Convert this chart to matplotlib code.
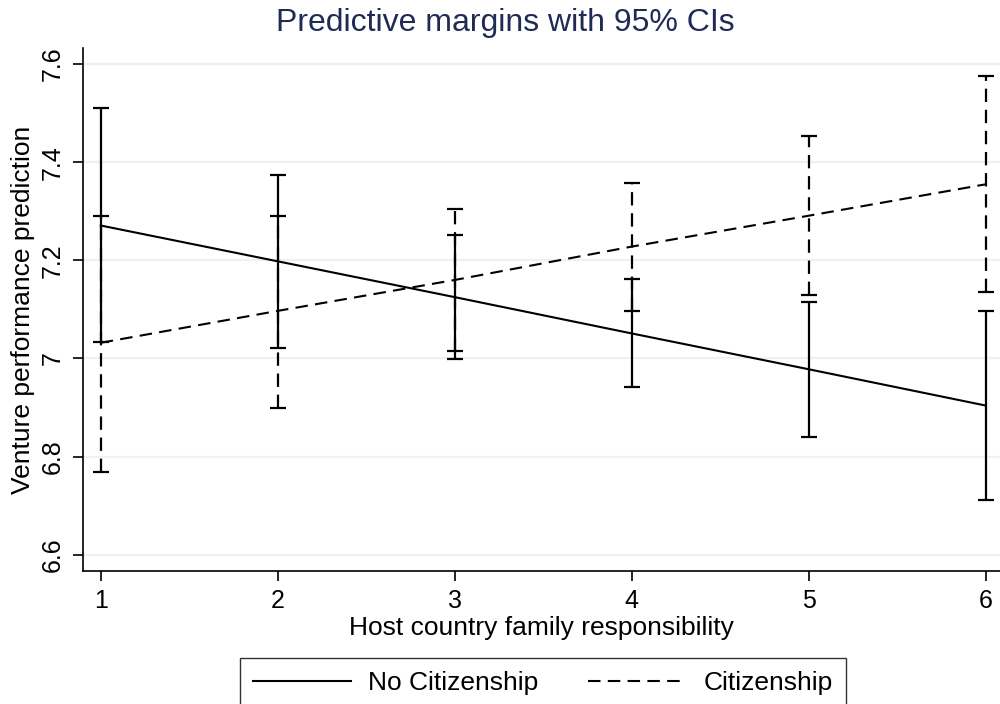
import matplotlib
matplotlib.use("Agg")
import matplotlib.pyplot as plt
import numpy as np

# values
x_vals = [1, 2, 3, 4, 5, 6]
no_cit = [7.271, 7.198, 7.125, 7.051, 6.978, 6.904]
no_cit_lo = [7.033, 7.022, 6.998, 6.941, 6.839, 6.712]
no_cit_hi = [7.510, 7.373, 7.251, 7.161, 7.116, 7.096]
cit = [7.032, 7.097, 7.160, 7.228, 7.291, 7.355]
cit_lo = [6.768, 6.900, 7.016, 7.096, 7.130, 7.136]
cit_hi = [7.291, 7.290, 7.305, 7.357, 7.454, 7.575]

plt.rcParams['font.family'] = ['Liberation Sans', 'DejaVu Sans']

fig = plt.figure(figsize=(10, 7.04), dpi=100)
ax = fig.add_axes([0.083, 0.189, 0.917, 0.743])

dash = (0, (6, 3.5))
nc = np.array(no_cit)
c = np.array(cit)

eb1 = ax.errorbar(x_vals, nc, yerr=[nc - np.array(no_cit_lo), np.array(no_cit_hi) - nc],
                  color='black', lw=1.5, elinewidth=1.6, capsize=6, capthick=1.6,
                  label='No Citizenship', zorder=3)
eb2 = ax.errorbar(x_vals, c, yerr=[c - np.array(cit_lo), np.array(cit_hi) - c],
                  color='black', lw=1.5, ls=dash, elinewidth=1.6, capsize=6,
                  capthick=1.6, label='Citizenship', zorder=3)
for bar in eb2[2]:
    bar.set_linestyle(dash)

ax.set_xlim(0.9, 6.08)
ax.set_ylim(6.567, 7.633)
ax.set_xticks(x_vals)
ax.set_yticks([6.6, 6.8, 7.0, 7.2, 7.4, 7.6])
ax.set_yticklabels(['6.6', '6.8', '7', '7.2', '7.4', '7.6'], rotation=90, va='center')
ax.tick_params(axis='both', labelsize=18, length=7, width=1.2, direction='out',
               color='black', pad=6)
ax.grid(axis='y', color='#eaf2f3', lw=1.6)
ax.set_axisbelow(True)
for s in ['top', 'right']:
    ax.spines[s].set_visible(False)
for s in ['left', 'bottom']:
    ax.spines[s].set_linewidth(1.2)

ax.set_xlabel('Host country family responsibility', fontsize=19, labelpad=2)
ax.set_ylabel('Venture performance prediction', fontsize=19, labelpad=4)
fig.text(0.505, 0.968, 'Predictive margins with 95% CIs', ha='center', va='center',
         fontsize=23, color='#1f2b55')

handles = [eb1[0], eb2[0]]
leg = fig.legend(handles, ['No Citizenship', 'Citizenship'], loc='upper left',
                 bbox_to_anchor=(0.240, 1 - 658 / 704), borderaxespad=0, ncol=2,
                 fontsize=19, frameon=True, fancybox=False, edgecolor='black',
                 handlelength=3.7, columnspacing=1.9, borderpad=0.5,
                 handletextpad=0.65)
leg.get_frame().set_linewidth(1.0)

fig.savefig('out.png', dpi=100)
